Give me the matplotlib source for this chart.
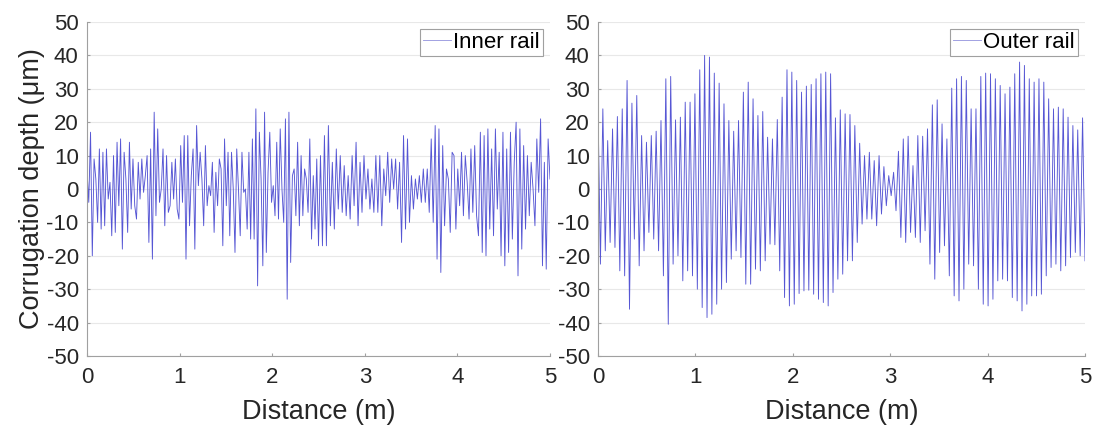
import numpy as np
import matplotlib
matplotlib.use('Agg')
from matplotlib import pyplot as plt

# corrugation depth (um), extrema, in order along the rail.
# inner rail is read in four stretches, each one with its own start/end distance (m)
inner_stretch_ends = [0, 1.26, 2.50, 3.76, 5.0]
inner_1 = [5.7, -4, 17, -20, 9, 3, -10, 12, -12, 11, -11, 12, -3, 2, -14, 10, -13, 14, -5, 15,
           -18, 11, 3, -13, 14, -6, 9, -5, -9, 8, -3, 9, -1, 4, 10, -16, 12, -21, 23, -8,
           18, -4, 0, 12, -11, 10, -7, -5, 8, -3, 9, -6, -9, 13, -4, 16, -21, 16, -11, 4,
           12, -18, 19, 1, 11, 3]
inner_2 = [-11, 13, -5, 1, -2, 8, -13, 5, -5, 9, 6, -17, 15, -5, 11, -14, 11, 0, -19, 12,
           0, -14, 11, -1, 0, -12, 11, -15, 15, -15, 24, -29, 17, 3, -23, 23, -19, 5, 17, -4,
           1, -8, 14, -9, 18, 0, -10, 21, -33, 23, -22, 4, 6, -8, 14, -11, 10, -8, 6, 3,
           -7, 15, -15, 4, -12, 9]
inner_3 = [-17, 10, -17, 16, -17, 19, -11, 8, -12, 12, -6, 10, -7, 7, -8, 4, -9, 10, -5, 14,
           -11, 8, -7, 10, -3, 6, -6, 3, -7, 10, -7, 10, -11, 6, -2, 11, -4, 9, 0, 9,
           -6, 8, -16, 16, -12, 15, -10, 4, -6, 3, -3, 4, -4, 6, -4, 6, -7, 15, -10]
inner_4 = [19, -21, 18, -25, 13, -11, 6, 3, -13, 11, 10, -12, 6, -5, 11, -8, 10, 2, -9, 12,
           -7, 13, -8, -14, 17, -19, 16, -20, 18, -12, 12, -14, 18, -6, 11, -20, 17, -23, 12, -19,
           17, -15, 8, 20, -26, 18, -18, 13, -12, 10, -8, 8, 0, -11, 15, -1, 21, -23, 8, -24,
           15, 3]

outer_peaks = [24.5, 24, 14.5, 18, 21.7, 24, 32.5, 25.7, 28, 16, 14, 16, 17.3, 20.5, 33, 33.7,
               20.7, 21.5, 26, 26, 28.5, 35.7, 40, 39.5, 34.7, 31.7,
               25.5, 20.5, 17.3, 20.5, 29, 32, 27, 22, 23.2, 15.5, 15, 20.8, 27.5, 35.7, 35, 32.5,
               29, 30.8, 31.3, 33, 34.5, 35, 34.5, 21.3, 23.7, 22.5,
               22.3, 19, 13.7, 10, 11, 8.5, 10, 6.7, 4, 5, 11.3, 15, 15.8, 7, 16, 15.8,
               18, 25.2, 26.7, 19.5, 15, 30.2, 33, 33.7, 32.5,
               24, 24, 33.7, 34.7, 34.5, 33, 31, 28.5, 30.5, 34.5, 38, 37, 33, 32, 33, 32,
               27, 24, 24.5, 24, 21.5, 19, 17.7, 21.3]
outer_troughs = [-22.5, -18.5, -16, -17.5, -24.5, -26, -36, -15, -23, -18.5, -13, -15, -18.5, -26,
                 -40.5, -22.5, -20, -27.5, -24.5, -26, -30, -35.5, -38.5, -37.5, -34.5,
                 -30, -28, -21, -18.5, -20.5, -28.5, -28.5, -24, -24.5, -21.5, -16.5, -16.7, -24.5,
                 -32.5, -35, -34.5, -31.3, -30.5, -30.3, -31.5, -33, -34, -35, -31, -27, -25.5,
                 -21.5, -21.5, -16, -10.5, -9, -9, -11, -7.5, -5, -2, -6.5, -14.5, -16, -13,
                 -14.5, -16, -12.5, -22.5, -27, -19, -17, -26, -32, -33.5, -30,
                 -22.5, -23, -30, -34.5, -35, -33, -27.5, -27, -27.5, -32.5, -33.5, -36.5, -34.5,
                 -32, -32, -31.5, -26, -23.5, -22.5, -24.5, -23, -20.5, -19, -20, -21.5]

xticks = [0, 1, 2, 3, 4, 5]
yticks = [-50, -40, -30, -20, -10, 0, 10, 20, 30, 40, 50]

plt.rcParams['font.family'] = ['Liberation Sans', 'DejaVu Sans']
plt.rcParams['axes.unicode_minus'] = False
LINE_COLOR = '#5656d4'
TEXT_COLOR = '#262626'

# inner rail: spread each stretch evenly between its own end points
inner_stretches = [inner_1, inner_2, inner_3, inner_4]
inner_dist = []
for k, part in enumerate(inner_stretches):
    last = k == len(inner_stretches) - 1
    inner_dist.append(np.linspace(inner_stretch_ends[k], inner_stretch_ends[k + 1], len(part),
                                  endpoint=last))
inner_dist = np.concatenate(inner_dist)
inner_rail = np.concatenate(inner_stretches)

outer_rail = np.empty(len(outer_peaks) + len(outer_troughs))
outer_rail[0::2] = outer_peaks
outer_rail[1::2] = outer_troughs
outer_dist = np.linspace(0, 5, len(outer_rail))

traces = [(inner_dist, inner_rail, 'Inner rail'), (outer_dist, outer_rail, 'Outer rail')]
boxes = [[87/1099, 1-356/429, 463/1099, 334/429],
         [598/1099, 1-356/429, 487/1099, 334/429]]

fig = plt.figure(figsize=(10.99, 4.29), dpi=100)

for i, (dist, depth, name) in enumerate(traces):
    ax = fig.add_axes(boxes[i])
    ax.plot(dist, depth, color=LINE_COLOR, lw=0.65, label=name)
    ax.set_xlim(0, 5)
    ax.set_ylim(-50, 50)
    ax.set_xticks(xticks)
    ax.set_yticks(yticks)
    ax.yaxis.grid(True, color='#e8e8e8', lw=0.8)
    ax.set_axisbelow(True)
    for side in ['top', 'right']:
        ax.spines[side].set_visible(False)
    for side in ['left', 'bottom']:
        ax.spines[side].set_color('#a0a0a0')
    ax.tick_params(direction='in', length=2, colors='#a0a0a0', labelcolor=TEXT_COLOR,
                   labelsize=16)
    ax.tick_params(axis='x', pad=8)
    ax.tick_params(axis='y', pad=6)
    ax.set_xlabel('Distance (m)', fontsize=19.5, color=TEXT_COLOR, labelpad=8)
    if i == 0:
        ax.set_ylabel('Corrugation depth (\u03bcm)', fontsize=19.5, color=TEXT_COLOR, labelpad=1)
    leg = ax.legend(loc='upper right', fontsize=16, handlelength=1.25, handletextpad=0.1,
                    borderpad=0.15, borderaxespad=0.3, fancybox=False, framealpha=1)
    leg.get_frame().set_edgecolor('#a0a0a0')
    leg.get_frame().set_linewidth(0.8)
    leg.get_lines()[0].set_color('#9a9ae0')

fig.savefig('out.png', dpi=100)
